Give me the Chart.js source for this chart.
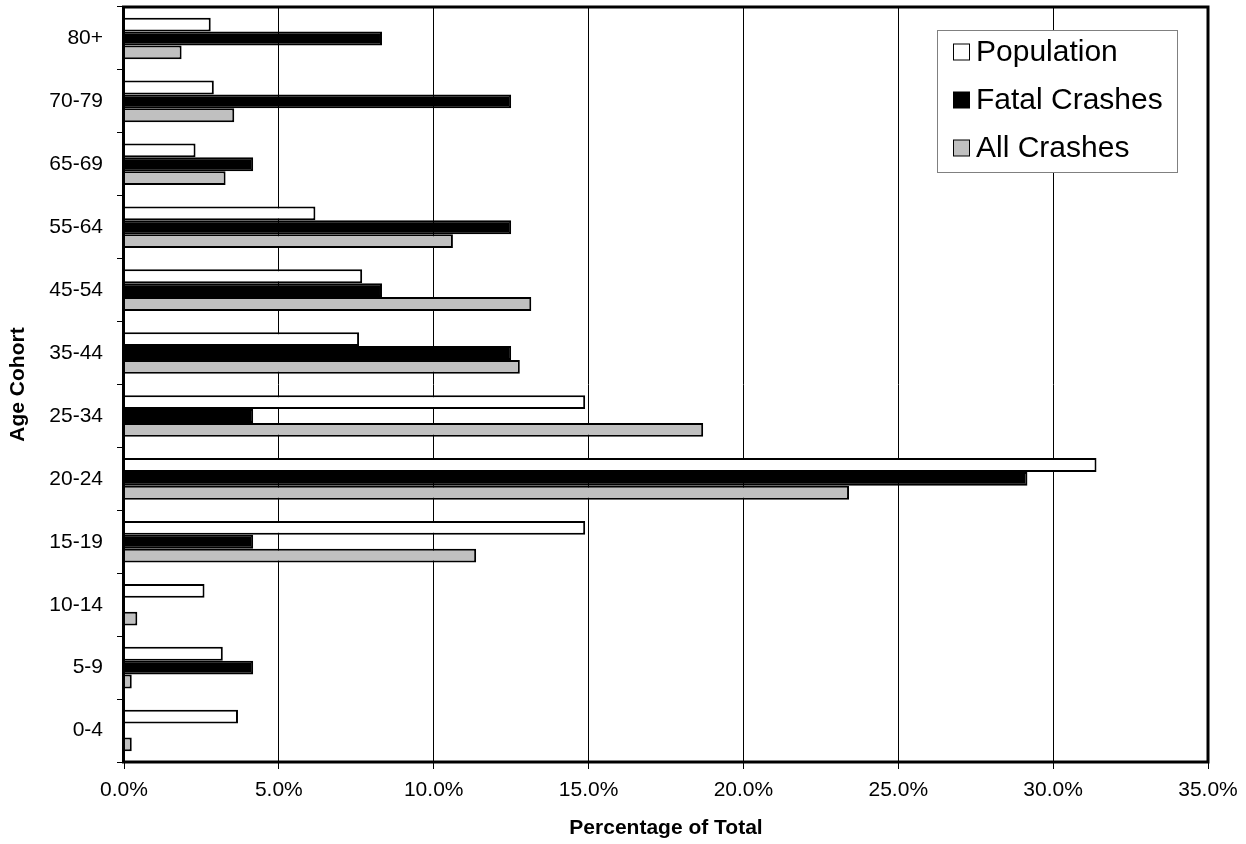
<!DOCTYPE html>
<html>
<head>
<meta charset="utf-8">
<script src="https://cdn.jsdelivr.net/npm/chart.js@4/dist/chart.umd.min.js"></script>
<style>
  html, body { margin: 0; padding: 0; background: #ffffff; }
  #wrap { width: 1246px; height: 844px; }
</style>
</head>
<body>
<div id="wrap"><canvas id="c" width="1246" height="844"></canvas></div>
<script>
const categories = ['80+', '70-79', '65-69', '55-64', '45-54', '35-44', '25-34', '20-24', '15-19', '10-14', '5-9', '0-4'];
const population = [2.80, 2.90, 2.31, 6.18, 7.69, 7.59, 14.89, 31.40, 14.89, 2.60, 3.19, 3.68];
const fatalCrashes = [8.33, 12.50, 4.17, 12.50, 8.33, 12.50, 4.17, 29.17, 4.17, 0, 4.17, 0];
const allCrashes = [1.86, 3.56, 3.28, 10.62, 13.15, 12.78, 18.70, 23.41, 11.37, 0.43, 0.25, 0.25];
const seriesNames = ['Population', 'Fatal Crashes', 'All Crashes'];
const xTicks = [0, 5, 10, 15, 20, 25, 30, 35];

const FONT = "'Liberation Sans', Arial, sans-serif";

const framePlugin = {
  id: 'frame',
  afterDatasetsDraw(chart) {
    const { ctx, chartArea: a } = chart;
    ctx.save();
    ctx.strokeStyle = '#000';
    ctx.lineWidth = 3;
    ctx.strokeRect(a.left - 0.5, a.top, a.right - a.left + 0.5, a.bottom - a.top);
    ctx.restore();
  }
};

const legendPlugin = {
  id: 'boxLegend',
  afterDraw(chart) {
    const { ctx } = chart;
    const x0 = 937, y0 = 30, w = 240, h = 142;
    ctx.save();
    ctx.fillStyle = '#fff';
    ctx.fillRect(x0, y0, w, h);
    ctx.strokeStyle = '#808080';
    ctx.lineWidth = 1;
    ctx.strokeRect(x0 + 0.5, y0 + 0.5, w, h);
    ctx.font = '30px ' + FONT;
    ctx.textBaseline = 'middle';
    chart.data.datasets.forEach((ds, i) => {
      const cy = 52 + i * 48;
      ctx.fillStyle = ds.backgroundColor;
      ctx.fillRect(953.5, cy - 8, 16, 16);
      ctx.strokeStyle = '#000';
      ctx.lineWidth = 1;
      ctx.strokeRect(953.5, cy - 8, 16, 16);
      ctx.fillStyle = '#000';
      ctx.fillText(ds.label, 976, cy + 1);
    });
    ctx.restore();
  }
};

const colors = ['#ffffff', '#000000', '#c0c0c0'];
const seriesData = [population, fatalCrashes, allCrashes];

new Chart(document.getElementById('c'), {
  type: 'bar',
  data: {
    labels: categories,
    datasets: seriesNames.map((name, i) => ({
      label: name,
      data: seriesData[i],
      backgroundColor: colors[i],
      borderColor: '#000000',
      borderWidth: 2,
      categoryPercentage: 0.66,
      barPercentage: 1.0
    }))
  },
  options: {
    indexAxis: 'y',
    responsive: false,
    animation: false,
    devicePixelRatio: 1,
    layout: { padding: { top: 7, right: 38, left: 0, bottom: 0 } },
    plugins: {
      legend: { display: false },
      tooltip: { enabled: false },
      title: { display: false }
    },
    scales: {
      x: {
        type: 'linear',
        min: 0,
        max: 35,
        afterBuildTicks(scale) { scale.ticks = xTicks.map(v => ({ value: v })); },
        afterFit(scale) { scale.height = 82; scale.paddingLeft = 0; scale.paddingRight = 0; },
        ticks: {
          color: '#000',
          font: { family: FONT, size: 21 },
          padding: 9,
          maxRotation: 0,
          callback: v => Number(v).toFixed(1) + '%'
        },
        grid: {
          color: '#000',
          lineWidth: 1,
          drawTicks: true,
          tickLength: 7
        },
        border: { display: false },
        title: {
          display: true,
          text: 'Percentage of Total',
          color: '#000',
          font: { family: FONT, size: 21, weight: 'bold' },
          padding: { top: 0, bottom: 3 }
        }
      },
      y: {
        afterFit(scale) { scale.width = 124; scale.paddingTop = 0; scale.paddingBottom = 0; },
        ticks: {
          color: '#000',
          font: { family: FONT, size: 21 },
          padding: 14
        },
        grid: {
          offset: true,
          drawOnChartArea: false,
          drawTicks: true,
          tickLength: 7,
          color: '#000',
          lineWidth: 1
        },
        border: { display: false },
        title: {
          display: true,
          text: 'Age Cohort',
          color: '#000',
          font: { family: FONT, size: 21, weight: 'bold' },
          padding: { top: 6, bottom: 0 }
        }
      }
    }
  },
  plugins: [framePlugin, legendPlugin]
});
</script>
</body>
</html>
